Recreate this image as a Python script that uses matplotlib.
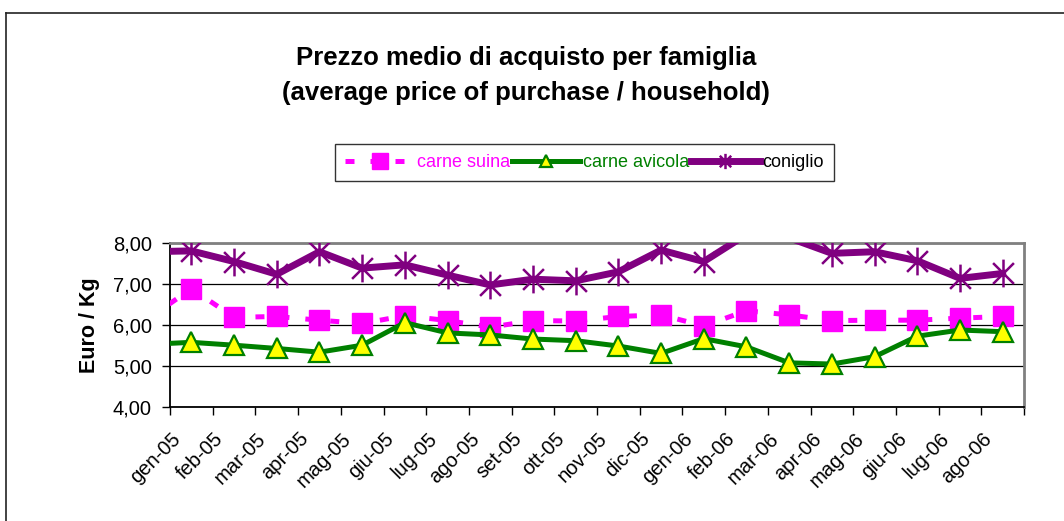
import matplotlib
matplotlib.use("Agg")
import matplotlib.pyplot as plt
import matplotlib.transforms as mtransforms
from matplotlib.path import Path
from matplotlib.ticker import FixedLocator, FuncFormatter
import numpy as np

plt.rcParams["font.family"] = ["Liberation Sans", "DejaVu Sans"]

# months shown on the axis; the line also enters from the month before (dic-04)
months = ["gen-05", "feb-05", "mar-05", "apr-05", "mag-05", "giu-05", "lug-05",
          "ago-05", "set-05", "ott-05", "nov-05", "dic-05", "gen-06", "feb-06",
          "mar-06", "apr-06", "mag-06", "giu-06", "lug-06", "ago-06"]
prev_suina, prev_avicola, prev_coniglio = 6.15, 5.52, 7.78

carne_suina = [6.88, 6.18, 6.20, 6.11, 6.03, 6.22, 6.10, 5.94, 6.10, 6.09,
               6.20, 6.24, 5.97, 6.34, 6.24, 6.10, 6.11, 6.11, 6.16, 6.20]
carne_avicola = [5.57, 5.50, 5.42, 5.33, 5.50, 6.05, 5.80, 5.75, 5.65, 5.61,
                 5.48, 5.30, 5.66, 5.46, 5.07, 5.04, 5.22, 5.72, 5.87, 5.83]
coniglio = [7.80, 7.54, 7.23, 7.78, 7.38, 7.46, 7.21, 6.97, 7.11, 7.07,
            7.29, 7.82, 7.54, 8.20, 8.12, 7.74, 7.78, 7.56, 7.13, 7.25]

ymin, ymax = 4.0, 8.0

x = np.arange(-1, len(months))
suina = np.array([prev_suina] + carne_suina)
avicola = np.array([prev_avicola] + carne_avicola)
con = np.array([prev_coniglio] + coniglio)

# Excel-like star: vertical bar plus an X
star = Path([(0, -1), (0, 1), (-0.75, -0.75), (0.75, 0.75), (-0.75, 0.75), (0.75, -0.75)],
            [Path.MOVETO, Path.LINETO, Path.MOVETO, Path.LINETO, Path.MOVETO, Path.LINETO])

fig = plt.figure(figsize=(10.64, 5.21), dpi=100)
ax = fig.add_axes([170 / 1064, 1 - 406.7 / 521, 854 / 1064, 164 / 521])

magenta, green, purple = "#FF00FF", "#008000", "#800080"

ax.plot(x, suina, color=magenta, lw=3.6, dashes=(1.8, 3.2), marker="s", ms=14,
        mfc=magenta, mec=magenta, zorder=3, label="carne suina")
ax.plot(x, avicola, color=green, lw=3.6, marker="^", ms=14, mfc="#FFFF00",
        mec=green, mew=1.6, zorder=4, label="carne avicola")
ax.plot(x, con, color=purple, lw=5, zorder=5)
# markers outside the value range are not drawn
con_in = np.where(con <= ymax, con, np.nan)
ax.plot(x, con_in, ls="none", marker=star, ms=20, mec=purple, mew=1.8, zorder=6)
con_handle, = ax.plot([], [], color=purple, lw=5, marker=star, ms=10, mec=purple,
                      mew=1.8, label="coniglio")

ax.set_xlim(-0.5, len(months) - 0.5)
ax.set_ylim(ymin, ymax)
ax.set_yticks([4, 5, 6, 7, 8])
ax.yaxis.set_major_formatter(FuncFormatter(lambda v, p: f"{v:.2f}".replace(".", ",")))
ax.grid(axis="y", color="black", lw=0.9)
ax.set_axisbelow(True)

ax.set_xticks(np.arange(len(months)))
ax.set_xticklabels(months, rotation=45, ha="right", va="top")
ax.xaxis.set_minor_locator(FixedLocator(np.arange(-0.5, len(months), 1)))
ax.tick_params(axis="x", which="major", length=0, pad=16, labelsize=14.5)
ax.tick_params(axis="x", which="minor", length=6, width=1, direction="out", color="black")
ax.tick_params(axis="y", length=6, width=1, pad=7, labelsize=14.5)
shift = mtransforms.ScaledTranslation(-7 / 100, 0, fig.dpi_scale_trans)
for lab in ax.get_xticklabels():
    lab.set_transform(lab.get_transform() + shift)

for side in ("top", "right"):
    ax.spines[side].set_color("#808080")
    ax.spines[side].set_linewidth(2)
for side in ("left", "bottom"):
    ax.spines[side].set_color("black")
    ax.spines[side].set_linewidth(1.3)

ax.set_ylabel("Euro / Kg", fontsize=15.5, fontweight="bold", labelpad=9)

fig.text(526 / 1064, 1 - 65 / 521, "Prezzo medio di acquisto per famiglia",
         ha="center", va="baseline", fontsize=18.5, fontweight="bold")
fig.text(526 / 1064, 1 - 100 / 521, "(average price of purchase / household)",
         ha="center", va="baseline", fontsize=18.5, fontweight="bold")

leg = fig.legend(loc="center", bbox_to_anchor=(584.5 / 1064, 1 - 162.5 / 521),
                 ncol=3, fontsize=13, frameon=True, fancybox=False,
                 handlelength=3.8, handletextpad=0.15, columnspacing=0.1,
                 borderpad=0.55, borderaxespad=0)
leg.get_frame().set_edgecolor("black")
leg.get_frame().set_linewidth(1)
for text, col in zip(leg.get_texts(), [magenta, green, "black"]):
    text.set_color(col)
sizes = [12, 9, 11]
for h, s in zip(leg.legend_handles, sizes):
    h.set_markersize(s)

# chart area border (left and top only visible in the crop)
fig.add_artist(plt.Line2D([6 / 1064, 6 / 1064], [0, 1 - 13 / 521], color="#222222", lw=1.2))
fig.add_artist(plt.Line2D([6 / 1064, 1], [1 - 13 / 521, 1 - 13 / 521], color="#222222", lw=1.2))

fig.savefig("out.png", dpi=100)
